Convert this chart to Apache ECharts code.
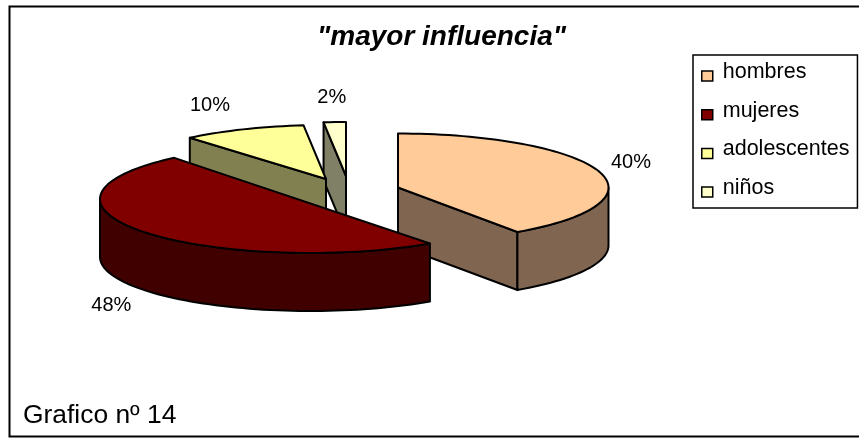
<!DOCTYPE html>
<html>
<head>
<meta charset="utf-8">
<style>html,body{margin:0;padding:0;background:#fff}#c{width:859px;height:438px}</style>
<script src="https://cdn.jsdelivr.net/npm/echarts@6/dist/echarts.min.js"></script>
</head>
<body>
<div id="c"></div>
<script>
// Data (labels round to 40 / 48 / 10 / 2 %)
const categories = ['hombres', 'mujeres', 'adolescentes', 'niños'];
const shares = [40.4, 48.4, 9.5, 1.7];

// Styling and layout of the 3D exploded pie
const topColors = ['#FFCC99', '#800000', '#FFFF99', '#FFFFCC'];
const sideColors = ['#806650', '#400000', '#808050', '#808066'];
const centers = [[398, 187.5], [310.5, 199], [326, 179], [346, 176]];
const labelOffsets = [[32, -9], [-32, 16], [-33, -24], [-3, -25]];
const RX = 210.5, RY = 54, DEPTH = 58;
const FONT = '"Liberation Sans", Arial, sans-serif';

const chart = echarts.init(document.getElementById('c'), null, { renderer: 'canvas' });

const rimPoint = (c, deg, dy) => {
  const a = deg * Math.PI / 180;
  return [c[0] + RX * Math.sin(a), c[1] - RY * Math.cos(a) + (dy || 0)];
};
const arc = (c, from, to, dy) => {
  const pts = [];
  const n = Math.max(2, Math.ceil(Math.abs(to - from) / 2));
  for (let i = 0; i <= n; i++) pts.push(rimPoint(c, from + (to - from) * i / n, dy));
  return pts;
};
const total = shares.reduce((a, b) => a + b, 0);
const startAngle = i => shares.slice(0, i).reduce((a, b) => a + b, 0) / total * 360;

function sliceRenderer(i) {
  return function (params, api) {
    const c = centers[i];
    const from = startAngle(i);
    const to = from + api.value(0) / total * 360;
    const line = { stroke: '#000', lineWidth: 2, lineJoin: 'round' };
    const poly = (points, fill) => ({
      type: 'polygon', shape: { points }, style: Object.assign({ fill }, line)
    });
    const below = p => [p[0], p[1] + DEPTH];
    const children = [];

    // flat walls that face the viewer
    if (i === 0) {
      const e = rimPoint(c, to);
      children.push(poly([c, e, below(e), below(c)], sideColors[i]));
    }
    if (i >= 2) {
      const s = rimPoint(c, from);
      children.push(poly([s, c, below(c), below(s)], sideColors[i]));
    }
    // curved outer wall
    const visFrom = Math.max(from, 90), visTo = Math.min(to, 270);
    if (visTo > visFrom) {
      const upper = arc(c, visFrom, visTo);
      const lower = arc(c, visTo, visFrom, DEPTH);
      children.push(poly(upper.concat(lower), sideColors[i]));
    }
    // top face (a slice of nearly half the pie closes with one straight edge, as in the reference)
    const rim = arc(c, from, to);
    children.push(poly(to - from > 170 ? rim : [c].concat(rim), topColors[i]));
    // percent label
    const midAngle = (from + to) / 2;
    const mid = rimPoint(c, midAngle, midAngle > 90 && midAngle < 270 ? DEPTH : 0);
    children.push({
      type: 'text',
      style: {
        x: mid[0] + labelOffsets[i][0], y: mid[1] + labelOffsets[i][1],
        text: Math.round(api.value(0)) + '%',
        fill: '#000', font: '20px ' + FONT, align: 'center', verticalAlign: 'middle'
      }
    });
    return { type: 'group', children };
  };
}

// painted back to front
const drawOrder = [3, 2, 0, 1];

chart.setOption({
  animation: false,
  backgroundColor: '#fff',
  title: [
    { text: '"mayor influencia"', left: 441.5, top: 23, textAlign: 'center', padding: 0,
      textStyle: { fontFamily: FONT, fontSize: 28, fontWeight: 'bold', fontStyle: 'italic', color: '#000' } },
    { text: 'Grafico nº 14', left: 23, top: 403, padding: 0,
      textStyle: { fontFamily: FONT, fontSize: 26.4, fontWeight: 'normal', color: '#000' } }
  ],
  legend: {
    orient: 'vertical', left: 693, top: 55,
    data: categories,
    // square marker sitting low in its icon box, so it hangs below the text centre
    icon: 'path://M0 0M0 8H11V18H0Z', itemWidth: 11, itemHeight: 18, itemGap: 16.7,
    padding: [6, 8, 9, 8], borderColor: '#000', borderWidth: 1.5, backgroundColor: '#fff',
    itemStyle: { borderColor: '#000', borderWidth: 1.5 },
    textStyle: { fontFamily: FONT, fontSize: 21.5, color: '#000', padding: [0, 0, 0, 5] },
    selectedMode: false
  },
  graphic: [{
    type: 'polyline', silent: true,
    shape: { points: [[862, 6.5], [9.5, 6.5], [9.5, 436.5], [862, 436.5]] },
    style: { stroke: '#000', lineWidth: 2, fill: null }
  }],
  series: drawOrder.map(i => ({
    type: 'custom', name: categories[i], coordinateSystem: 'none', clip: false,
    silent: true, itemStyle: { color: topColors[i] },
    renderItem: sliceRenderer(i), data: [[shares[i]]]
  }))
});
</script>
</body>
</html>
